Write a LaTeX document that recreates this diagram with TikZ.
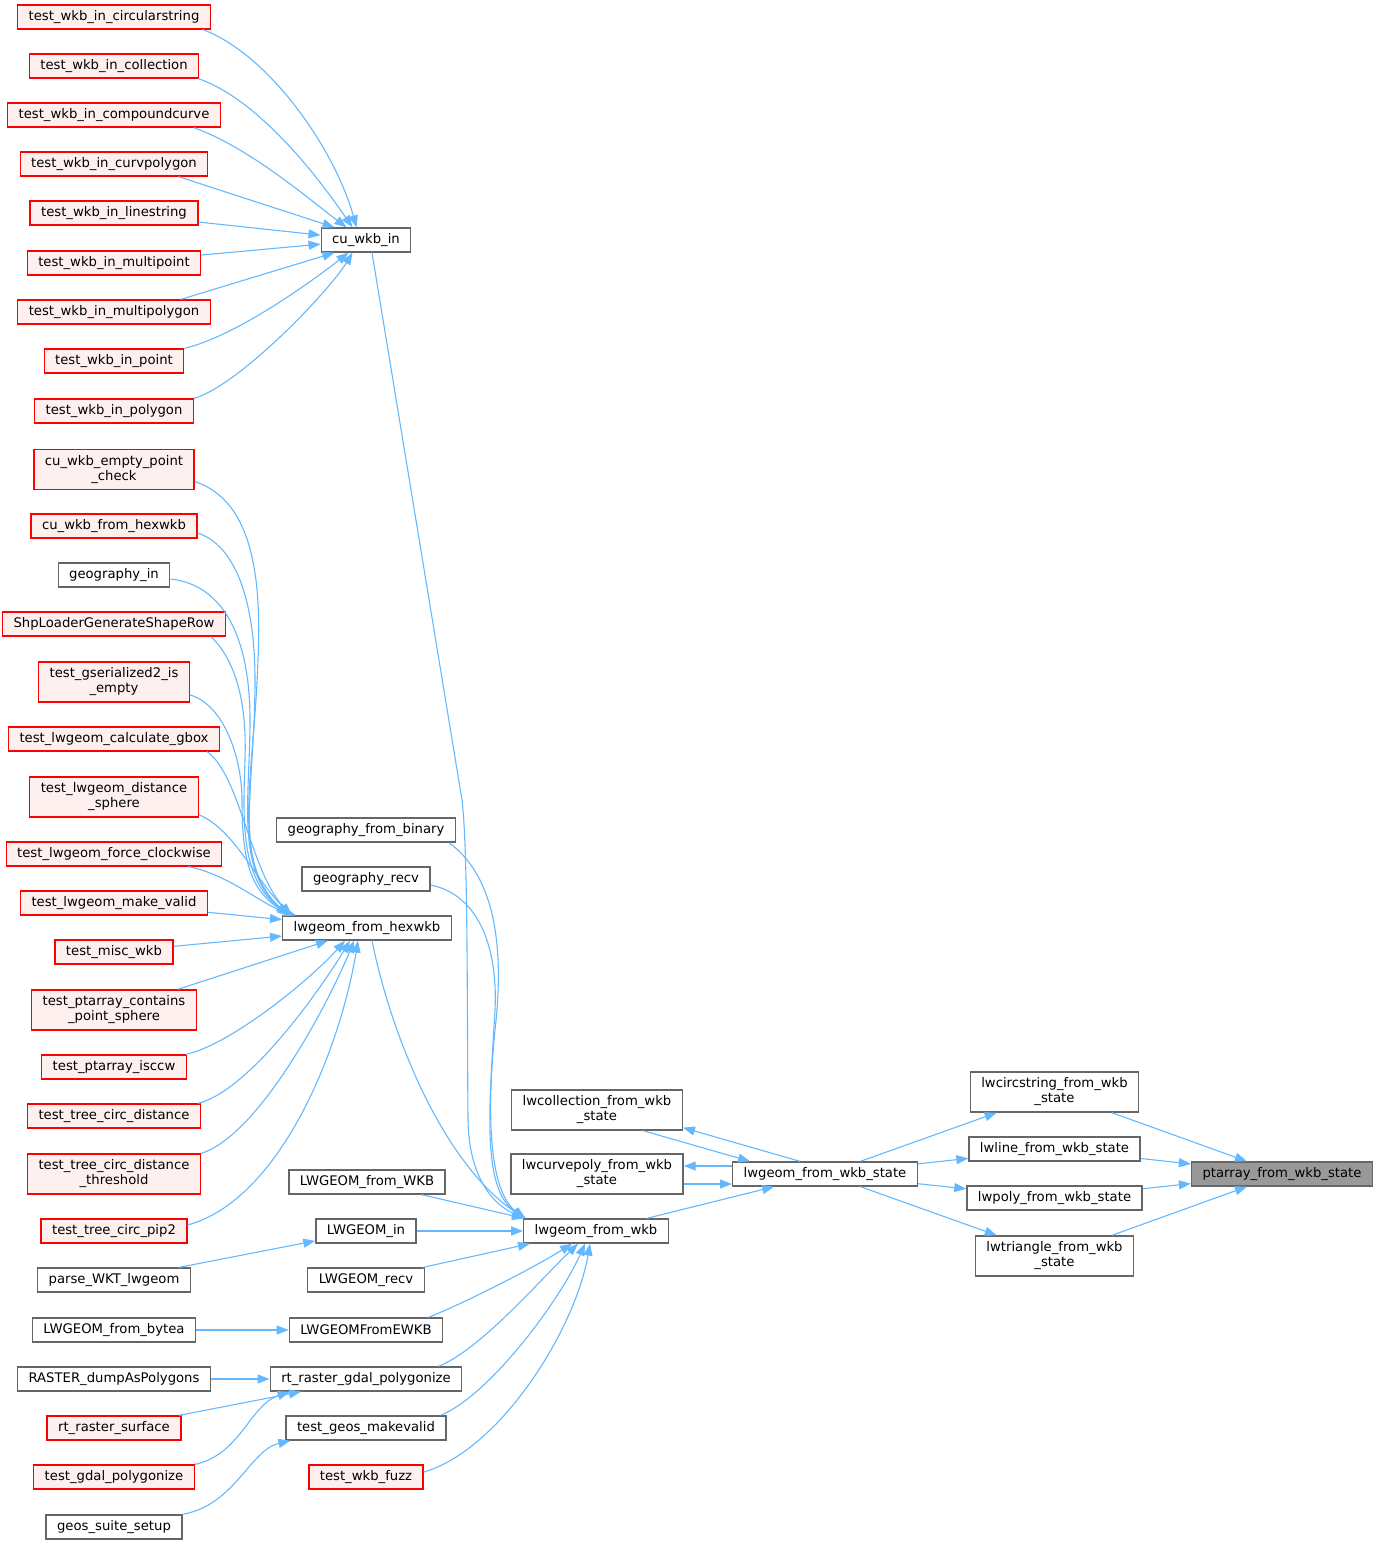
\documentclass[tikz,border=0pt]{standalone}
\usepackage{fontspec}
\setmainfont{DejaVu Sans}
\usepackage{xcolor}
\usetikzlibrary{arrows.meta}

\definecolor{edgeblue}{HTML}{63B8FF}
\definecolor{boxgray}{HTML}{666666}
\definecolor{rootgray}{HTML}{999999}
\definecolor{redfill}{HTML}{FFF0F0}

\tikzset{
  fn/.style={draw=boxgray, fill=white, line width=1.3pt, inner xsep=11pt, inner ysep=0pt,
    minimum height=24pt, font=\fontsize{13.2}{15}\selectfont},
  fnred/.style={fn, draw=red},
  fnroot/.style={fn, fill=rootgray},
  twoline/.style={align=center, minimum height=40pt},
  edge/.style={draw=edgeblue, line width=1.1pt, -{Triangle[length=12pt,width=9pt]}},
}

\begin{document}
\begin{tikzpicture}[x=1pt,y=-1pt]
  \useasboundingbox (0,0) rectangle (1379,1547);

  % --- callers of cu_wkb_in ---
  \node[fnred,fill=redfill] (inCirc) at (114,17) {test\_wkb\_in\_circularstring};
  \node[fnred,fill=redfill] (inColl) at (114,66) {test\_wkb\_in\_collection};
  \node[fnred,fill=redfill] (inComp) at (114,115) {test\_wkb\_in\_compoundcurve};
  \node[fnred,fill=redfill] (inCurvp) at (114,164) {test\_wkb\_in\_curvpolygon};
  \node[fnred,fill=redfill] (inLine) at (114,213) {test\_wkb\_in\_linestring};
  \node[fnred,fill=redfill] (inMpt) at (114,263) {test\_wkb\_in\_multipoint};
  \node[fnred,fill=redfill] (inMpoly) at (114,312) {test\_wkb\_in\_multipolygon};
  \node[fnred,fill=redfill] (inPt) at (114,361) {test\_wkb\_in\_point};
  \node[fnred,fill=redfill] (inPoly) at (114,411) {test\_wkb\_in\_polygon};

  % --- callers of lwgeom_from_hexwkb ---
  \node[fnred,fill=redfill,twoline] (hexEmpty) at (114,469.5) {cu\_wkb\_empty\_point\\\_check};
  \node[fnred,fill=redfill] (hexFrom) at (114,526) {cu\_wkb\_from\_hexwkb};
  \node[fn] (geogIn) at (114,575) {geography\_in};
  \node[fnred,fill=redfill] (shpRow) at (114,624) {ShpLoaderGenerateShapeRow};
  \node[fnred,fill=redfill,twoline] (gserEmpty) at (114,682) {test\_gserialized2\_is\\\_empty};
  \node[fnred,fill=redfill] (gbox) at (114,739) {test\_lwgeom\_calculate\_gbox};
  \node[fnred,fill=redfill,twoline] (distSphere) at (114,797) {test\_lwgeom\_distance\\\_sphere};
  \node[fnred,fill=redfill] (clockwise) at (114,854) {test\_lwgeom\_force\_clockwise};
  \node[fnred,fill=redfill] (makeValid) at (114,903) {test\_lwgeom\_make\_valid};
  \node[fnred,fill=redfill] (miscWkb) at (114,952) {test\_misc\_wkb};
  \node[fnred,fill=redfill,twoline] (containsPt) at (114,1010) {test\_ptarray\_contains\\\_point\_sphere};
  \node[fnred,fill=redfill] (isccw) at (114,1067) {test\_ptarray\_isccw};
  \node[fnred,fill=redfill] (circDist) at (114,1116) {test\_tree\_circ\_distance};
  \node[fnred,fill=redfill,twoline] (circDistThr) at (114,1174) {test\_tree\_circ\_distance\\\_threshold};
  \node[fnred,fill=redfill] (pipTwo) at (114,1231) {test\_tree\_circ\_pip2};

  % --- second level callers ---
  \node[fn] (parseWkt) at (114,1280) {parse\_WKT\_lwgeom};
  \node[fn] (fromBytea) at (114,1330) {LWGEOM\_from\_bytea};
  \node[fn] (dumpPolys) at (114,1379) {RASTER\_dumpAsPolygons};
  \node[fnred,fill=redfill] (rastSurf) at (114,1428) {rt\_raster\_surface};
  \node[fnred,fill=redfill] (gdalPoly) at (114,1477) {test\_gdal\_polygonize};
  \node[fn] (geosSetup) at (114,1527) {geos\_suite\_setup};

  % --- middle column ---
  \node[fn] (cuWkbIn) at (366,240) {cu\_wkb\_in};
  \node[fn] (geogBinary) at (366,830) {geography\_from\_binary};
  \node[fn] (geogRecv) at (366,879) {geography\_recv};
  \node[fn] (fromHex) at (367,928) {lwgeom\_from\_hexwkb};
  \node[fn] (LwFromWkb) at (367,1182) {LWGEOM\_from\_WKB};
  \node[fn] (LwIn) at (366,1231) {LWGEOM\_in};
  \node[fn] (LwRecv) at (366,1280) {LWGEOM\_recv};
  \node[fn] (LwFromEwkb) at (366,1330) {LWGEOMFromEWKB};
  \node[fn] (gdalPolygonize) at (366,1379) {rt\_raster\_gdal\_polygonize};
  \node[fn] (geosValid) at (366,1428) {test\_geos\_makevalid};
  \node[fnred,fill=redfill] (wkbFuzz) at (366,1477) {test\_wkb\_fuzz};

  % --- right part ---
  \node[fn,twoline] (collState) at (597,1110) {lwcollection\_from\_wkb\\\_state};
  \node[fn,twoline] (curveState) at (597,1174) {lwcurvepoly\_from\_wkb\\\_state};
  \node[fn] (fromWkb) at (596,1231) {lwgeom\_from\_wkb};
  \node[fn] (wkbState) at (825,1174) {lwgeom\_from\_wkb\_state};
  \node[fn,twoline] (circState) at (1054.5,1092) {lwcircstring\_from\_wkb\\\_state};
  \node[fn] (lineState) at (1054.5,1149) {lwline\_from\_wkb\_state};
  \node[fn] (polyState) at (1054.5,1198) {lwpoly\_from\_wkb\_state};
  \node[fn,twoline] (triState) at (1054.5,1256) {lwtriangle\_from\_wkb\\\_state};
  \node[fnroot] (ptarray) at (1282,1174) {ptarray\_from\_wkb\_state};

  % edges into cu_wkb_in
  \draw[edge] ([xshift=-8pt]inCirc.south east) .. controls (270,55) and (335,150) .. ([xshift=36pt]cuWkbIn.north west);
  \draw[edge] ([xshift=-1pt]inColl.south east) .. controls (260,100) and (320,180) .. ([xshift=32pt]cuWkbIn.north west);
  \draw[edge] ([xshift=-27pt]inComp.south east) .. controls (250,148) and (310,200) .. ([xshift=26pt]cuWkbIn.north west);
  \draw[edge] ([xshift=-30pt]inCurvp.south east) -- ([xshift=14pt]cuWkbIn.north west);
  \draw[edge] (inLine) -- (cuWkbIn);
  \draw[edge] (inMpt) -- (cuWkbIn);
  \draw[edge] ([xshift=-30pt]inMpoly.north east) -- ([xshift=14pt]cuWkbIn.south west);
  \draw[edge] (inPt.north east) .. controls (240,335) and (320,275) .. ([xshift=28pt]cuWkbIn.south west);
  \draw[edge] (inPoly.north east) .. controls (240,385) and (330,290) .. ([xshift=32pt]cuWkbIn.south west);

  % edges into lwgeom_from_hexwkb
  \draw[edge] ([yshift=-12pt]hexEmpty.east) .. controls (250,500) and (262,570) .. (258,660)
    .. controls (254,780) and (230,860) .. ([xshift=6pt]fromHex.north west);
  \draw[edge] ([yshift=-7pt]hexFrom.east) .. controls (235,545) and (255,600) .. (255,680)
    .. controls (255,790) and (232,865) .. ([xshift=6pt]fromHex.north west);
  \draw[edge] ([yshift=-4pt]geogIn.east) .. controls (225,585) and (250,640) .. (250,720)
    .. controls (250,800) and (235,870) .. ([xshift=7pt]fromHex.north west);
  \draw[edge] ([xshift=-15pt]shpRow.south east) .. controls (235,660) and (247,700) .. (245,760)
    .. controls (243,820) and (240,880) .. ([xshift=8pt]fromHex.north west);
  \draw[edge] ([yshift=-13pt]gserEmpty.east) .. controls (225,705) and (242,760) .. (242,800)
    .. controls (242,860) and (250,890) .. ([xshift=8pt]fromHex.north west);
  \draw[edge] ([xshift=-13pt]gbox.south east) .. controls (240,775) and (250,870) .. ([xshift=9pt]fromHex.north west);
  \draw[edge] ([yshift=3pt]distSphere.south east) .. controls (235,830) and (255,880) .. ([xshift=10pt]fromHex.north west);
  \draw[edge] ([xshift=-34pt]clockwise.south east) .. controls (230,875) and (262,905) .. ([xshift=14pt]fromHex.north west);
  \draw[edge] (makeValid) -- (fromHex);
  \draw[edge] (miscWkb) -- (fromHex);
  \draw[edge] (containsPt) -- (fromHex);
  \draw[edge] ([xshift=-1pt]isccw.north east) .. controls (230,1045) and (310,980) .. ([xshift=63pt]fromHex.south west);
  \draw[edge] ([xshift=-3pt]circDist.north east) .. controls (250,1090) and (320,990) .. ([xshift=68pt]fromHex.south west);
  \draw[edge] (circDistThr.north east) .. controls (260,1135) and (330,1000) .. ([xshift=72pt]fromHex.south west);
  \draw[edge] ([yshift=6pt]pipTwo.east) .. controls (280,1200) and (340,1050) .. ([xshift=76pt]fromHex.south west);

  % edges into lwgeom_from_wkb
  \draw[edge] ([xshift=6pt]cuWkbIn.south) -- (462,800) .. controls (468,850) and (467,1000) .. (468,1120)
    .. controls (469,1180) and (495,1205) .. ([xshift=1pt]fromWkb.north west);
  \draw[edge] ([xshift=-7pt]geogBinary.south east) .. controls (500,880) and (503,960) .. (495,1030)
    .. controls (487,1110) and (488,1190) .. ([xshift=2pt]fromWkb.north west);
  \draw[edge] ([yshift=-6pt]geogRecv.east) .. controls (480,895) and (498,950) .. (495,1010)
    .. controls (490,1100) and (480,1190) .. ([xshift=3pt]fromWkb.north west);
  \draw[edge] ([xshift=5pt]fromHex.south) .. controls (390,1030) and (440,1160) .. ([xshift=1pt]fromWkb.north west);
  \draw[edge] (LwFromWkb) -- ([xshift=1pt]fromWkb.north west);
  \draw[edge] (LwIn) -- (fromWkb);
  \draw[edge] (LwRecv) -- ([xshift=7pt]fromWkb.south west);
  \draw[edge] ([xshift=-15pt]LwFromEwkb.north east) .. controls (460,1305) and (530,1270) .. ([xshift=49pt]fromWkb.south west);
  \draw[edge] ([xshift=-24pt]gdalPolygonize.north east) .. controls (480,1350) and (540,1280) .. ([xshift=55pt]fromWkb.south west);
  \draw[edge] ([xshift=-6pt]geosValid.north east) .. controls (490,1395) and (560,1300) .. ([xshift=62pt]fromWkb.south west);
  \draw[edge] ([yshift=5pt]wkbFuzz.east) .. controls (500,1450) and (575,1330) .. ([xshift=67pt]fromWkb.south west);

  % second level
  \draw[edge] (parseWkt) -- (LwIn);
  \draw[edge] (fromBytea) -- (LwFromEwkb);
  \draw[edge] (dumpPolys) -- (gdalPolygonize);
  \draw[edge] (rastSurf) -- (gdalPolygonize);
  \draw[edge] (gdalPoly.north east) .. controls (240,1455) and (250,1405) .. ([xshift=20pt]gdalPolygonize.south west);
  \draw[edge] (geosSetup.north east) .. controls (235,1505) and (250,1450) .. ([xshift=5pt]geosValid.south west);

  % right part
  \draw[edge] (fromWkb) -- (wkbState);
  \draw[edge] ([xshift=46pt]collState.south) -- ([xshift=18pt]wkbState.north west);
  \draw[edge] ([xshift=-25pt]wkbState.north) -- ([yshift=3pt]collState.south east);
  \draw[edge] ([yshift=8pt]wkbState.west) -- ([yshift=8pt]curveState.east);
  \draw[edge] ([yshift=-10pt]curveState.east) -- ([yshift=-10pt]wkbState.west);
  \draw[edge] (wkbState) -- (circState);
  \draw[edge] (wkbState) -- (lineState);
  \draw[edge] (wkbState) -- (polyState);
  \draw[edge] (wkbState) -- (triState);
  \draw[edge] (circState) -- (ptarray);
  \draw[edge] (lineState) -- (ptarray);
  \draw[edge] (polyState) -- (ptarray);
  \draw[edge] (triState) -- (ptarray);
\end{tikzpicture}
\end{document}
